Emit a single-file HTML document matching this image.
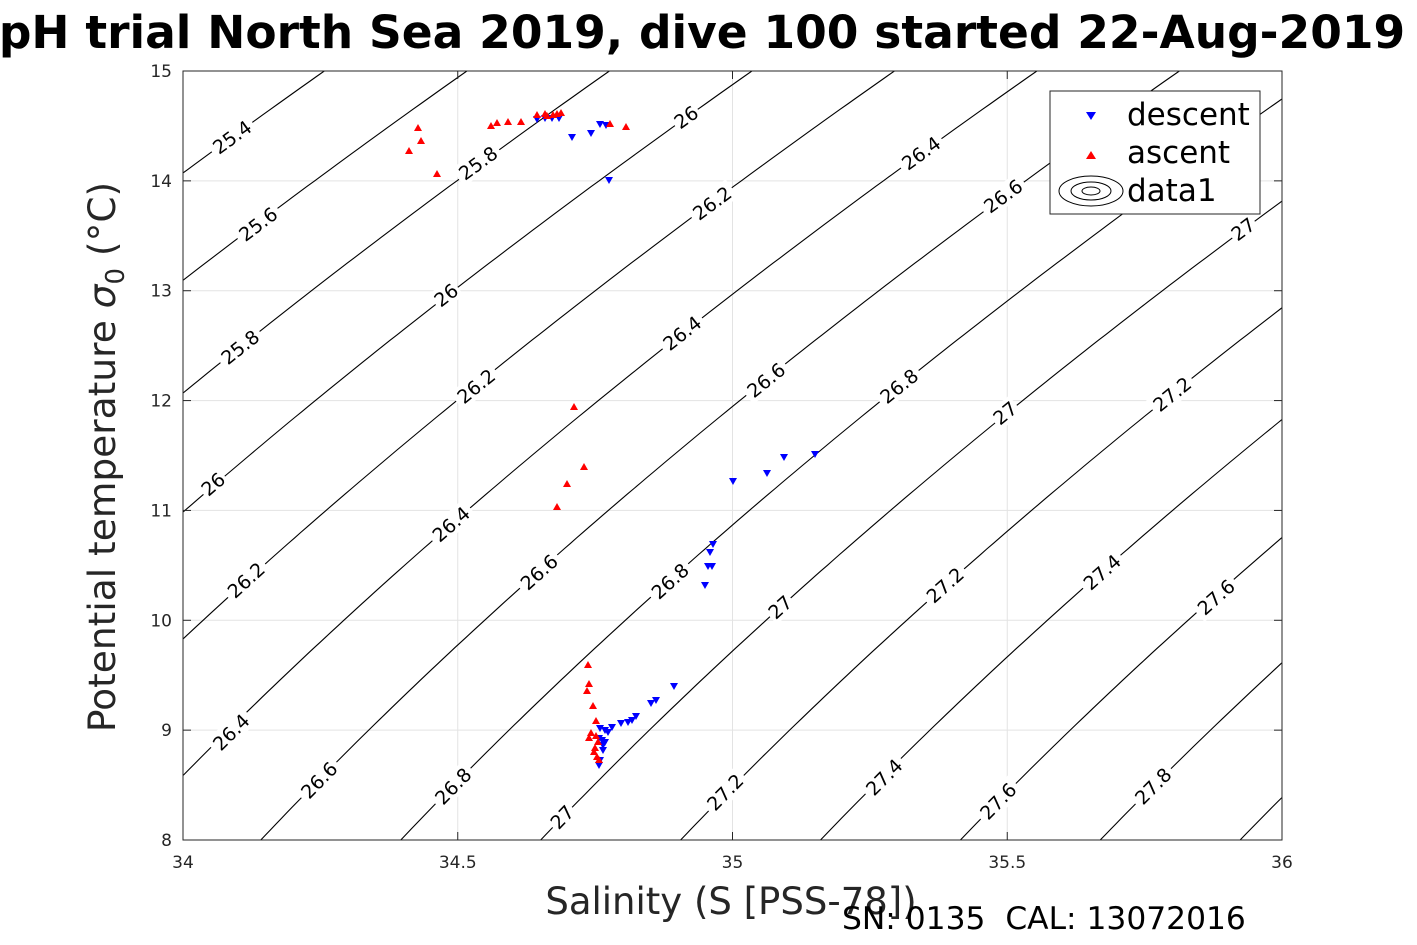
<!DOCTYPE html>
<html><head><meta charset="utf-8"><style>
html,body{margin:0;padding:0;background:#fff;}
svg{display:block;font-family:"DejaVu Sans","Liberation Sans",sans-serif;}
</style></head><body>
<svg id="s" width="1417" height="945" viewBox="0 0 1417 945" xmlns="http://www.w3.org/2000/svg">
<rect width="1417" height="945" fill="#fff"/>
<g id="grid" stroke="#e3e3e3" stroke-width="1"></g>
<g id="cont" fill="none" stroke="#000" stroke-width="1.1"></g>
<g id="labs" font-size="19"></g>
<g id="pts"></g>
<rect x="183" y="71" width="1099" height="769" fill="none" stroke="#262626" stroke-width="1"/>
<g id="ticks" font-size="17" fill="#262626"></g>
<text x="702" y="48" font-size="45.5" font-weight="bold" text-anchor="middle">pH trial North Sea 2019, dive 100 started 22-Aug-2019</text>
<text transform="translate(115,457) rotate(-90)" font-size="37.5" fill="#262626" text-anchor="middle">Potential temperature <tspan font-style="italic">σ</tspan><tspan font-size="26" dy="9">0</tspan><tspan dy="-9"> (°C)</tspan></text>
<text x="731" y="914" font-size="37" fill="#262626" text-anchor="middle">Salinity (S [PSS-78])</text>
<text x="842" y="929" font-size="31.3" fill="#000">SN: 0135&#160;&#160;CAL: 13072016</text>
<g>
<rect x="1050" y="91" width="210" height="123" fill="#fff" stroke="#262626" stroke-width="1"/>
<polygon points="1086,112 1096,112 1091,120" fill="#0000ff"/>
<text x="1127" y="125" font-size="31">descent</text>
<polygon points="1086,159 1096,159 1091,151" fill="#ff0000"/>
<text x="1127" y="163" font-size="31">ascent</text>
<ellipse cx="1091" cy="191" rx="32" ry="15" fill="none" stroke="#000"/>
<ellipse cx="1091" cy="191" rx="20" ry="9" fill="none" stroke="#000"/>
<ellipse cx="1091" cy="191" rx="9" ry="4" fill="none" stroke="#000"/>
<text x="1127" y="201" font-size="31">data1</text>
</g>
</svg>
<script>
const NS="http://www.w3.org/2000/svg";
const X0=183,X1=1282,Y0=840,Y1=71;
const px=s=>X0+(s-34)/2*(X1-X0), py=t=>Y0-(t-8)/7*(Y0-Y1);
function el(g,n,a){const e=document.createElementNS(NS,n);for(const k in a)e.setAttribute(k,a[k]);document.getElementById(g).appendChild(e);return e;}
function sig(S,T){
 const rw=999.842594+6.793952e-2*T-9.095290e-3*T*T+1.001685e-4*T**3-1.120083e-6*T**4+6.536332e-9*T**5;
 const A=8.24493e-1-4.0899e-3*T+7.6438e-5*T*T-8.2467e-7*T**3+5.3875e-9*T**4;
 const B=-5.72466e-3+1.0227e-4*T-1.6546e-6*T*T;
 return rw+A*S+B*S**1.5+4.8314e-4*S*S-1000;}
function solveS(sg,T){let S=35;for(let i=0;i<30;i++){const f=sig(S,T)-sg;const d=(sig(S+1e-4,T)-sig(S,T))/1e-4;S-=f/d;}return S;}
for(let s=34.5;s<36;s+=0.5)el("grid","line",{x1:px(s),x2:px(s),y1:Y1,y2:Y0});
for(let t=9;t<15;t++)el("grid","line",{x1:X0,x2:X1,y1:py(t),y2:py(t)});
for(let k=0;k<=20;k++){const sg=25.2+0.2*k;let d="";let first=true;
 for(let t=8;t<=15.0001;t+=0.05){const S=solveS(sg,t);const x=px(S),y=py(t);d+=(first?"M":"L")+x.toFixed(1)+","+y.toFixed(1);first=false;}
 el("cont","path",{d:d});}
document.getElementById("cont").setAttribute("clip-path","url(#cp)");
const cp=el("s","clipPath",{id:"cp"});const r=document.createElementNS(NS,"rect");r.setAttribute("x",X0);r.setAttribute("y",Y1);r.setAttribute("width",X1-X0);r.setAttribute("height",Y0-Y1);cp.appendChild(r);
const L=[["25.4",232,137],["25.6",258,224],["25.8",478,163],["26",686,117],["25.8",240,347],["26",446,295],["26.2",712,203],["26.4",921,153],["26",213,484],["26.2",476,386],["26.4",682,333],["26.6",1003,196],["26.2",246,580],["26.4",451,524],["26.6",766,380],["26.8",899,386],["27",1243,229],["26.4",231,732],["26.6",539,572],["26.8",670,581],["27",1005,413],["27.2",1172,394],["26.6",319,780],["26.8",453,786],["27",780,607],["27.2",945,585],["27.4",1102,572],["27.6",1216,597],["27",562,817],["27.2",725,792],["27.4",884,777],["27.6",998,801],["27.8",1153,786]];
const ppS=(X1-X0)/2, ppT=(Y0-Y1)/7;
for(const [t,x,y] of L){const S=34+(x-X0)/ppS,T=8+(Y0-y)/ppT;
 const dS=(sig(S+1e-3,T)-sig(S,T))/1e-3, dT=(sig(S,T+1e-3)-sig(S,T))/1e-3;
 const vy=-(-dS/dT)*ppT/ppS; const ang=Math.atan2(vy,1)*180/Math.PI;
 const w=t.length*11+6;
 const g=el("labs","g",{transform:`translate(${x},${y}) rotate(${ang})`});
 const rr=document.createElementNS(NS,"rect");rr.setAttribute("x",-w/2);rr.setAttribute("y",-11);rr.setAttribute("width",w);rr.setAttribute("height",22);rr.setAttribute("fill","#fff");g.appendChild(rr);
 const tx=document.createElementNS(NS,"text");tx.setAttribute("text-anchor","middle");tx.setAttribute("y",7);tx.textContent=t;g.appendChild(tx);}
const B=[[537,119],[545,118],[552,118],[559,118],[572,137],[591,133],[600,124],[606,125],[609,180],[733,481],[767,473],[784,457],[815,454],[713,544],[710,552],[708,566],[712,566],[705,585],[674,686],[656,700],[651,703],[636,716],[632,720],[621,723],[628,722],[599,765],[600,760],[603,750],[605,742],[602,740],[608,732],[605,730],[600,728],[612,727],[599,738],[603,745]];
const R=[[418,128],[421,141],[409,151],[437,174],[491,126],[497,123],[508,122],[521,122],[537,115],[547,116],[553,115],[557,114],[561,113],[545,114],[610,124],[626,127],[574,407],[584,467],[567,484],[557,507],[588,665],[589,684],[587,691],[593,706],[591,733],[596,721],[596,736],[595,748],[597,757],[599,760],[594,752],[598,742],[589,738]];
for(const [x,y] of B)el("pts","polygon",{points:`${x-4},${y-3} ${x+4},${y-3} ${x},${y+4}`,fill:"#0000ff"});
for(const [x,y] of R)el("pts","polygon",{points:`${x-4},${y+3} ${x+4},${y+3} ${x},${y-4}`,fill:"#ff0000"});
for(const s of [34,34.5,35,35.5,36]){el("ticks","line",{x1:px(s),x2:px(s),y1:Y0,y2:Y0-8,stroke:"#262626"});el("ticks","line",{x1:px(s),x2:px(s),y1:Y1,y2:Y1+8,stroke:"#262626"});const t=el("ticks","text",{x:px(s),y:868,"text-anchor":"middle"});t.textContent=String(s);}
for(let t=8;t<=15;t++){el("ticks","line",{x1:X0,x2:X0+8,y1:py(t),y2:py(t),stroke:"#262626"});el("ticks","line",{x1:X1,x2:X1-8,y1:py(t),y2:py(t),stroke:"#262626"});const e=el("ticks","text",{x:172,y:py(t)+6,"text-anchor":"end"});e.textContent=String(t);}
</script>
</body></html>
